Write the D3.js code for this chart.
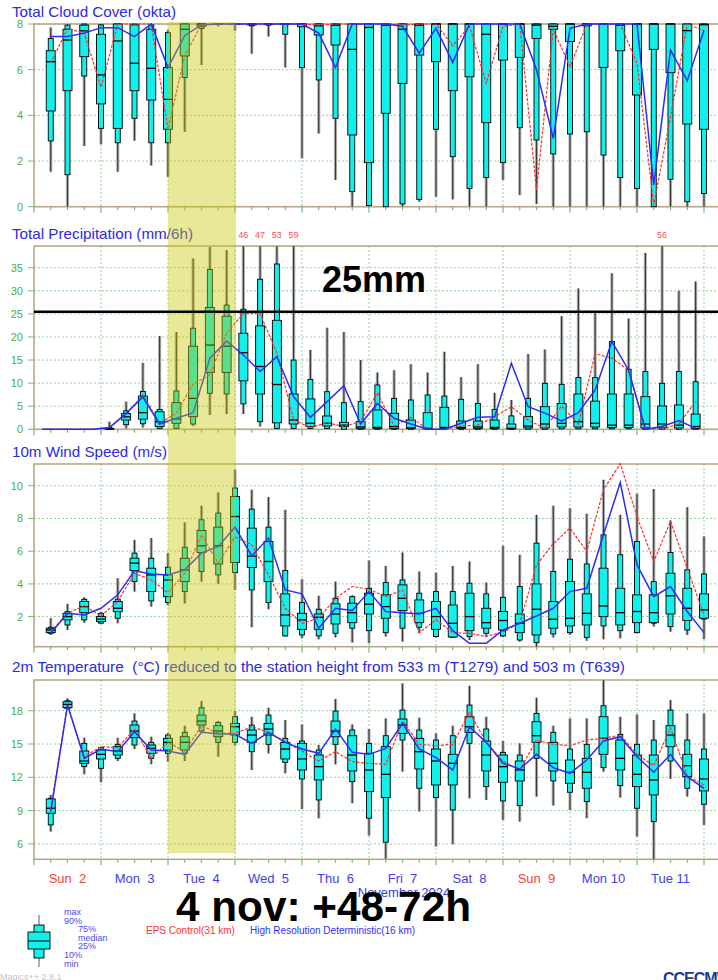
<!DOCTYPE html>
<html>
<head>
<meta charset="utf-8">
<script src="https://cdn.jsdelivr.net/npm/d3@7"></script>
<style>
  body { margin: 0; background: #fff; }
  svg { display: block; font-family: "Liberation Sans", Arial, sans-serif; }
  .pre { white-space: pre; }
</style>
</head>
<body>
<main></main>
<script>
// forecast steps (hours from Sun 2 00 UTC)
const stepHours = [6,12,18,24,30,36,42,48,54,60,66,72,78,84,90,96,102,108,114,120,
  126,132,138,144,150,156,162,168,174,180,186,192,198,204,210,216,222,228,234,240];
// precipitation is plotted at the middle of each 6h interval
const precipHours = [3,9,15,21,27,33,39,45,51,57,63,69,75,81,87,93,99,105,111,117,
  123,129,135,141,147,153,159,165,171,177,183,189,195,201,207,213,219,225,231,237];

const dayLabels = ['Sun  2','Mon  3','Tue  4','Wed  5','Thu  6','Fri  7','Sat  8','Sun  9','Mon 10','Tue 11'];
const sundays = ['Sun  2','Sun  9'];

// [min, p10, p25, median, p75, p90, max]
const cloudBoxes = [
  [1.53,2.88,4.19,6.35,6.83,7.37,7.85],[0,1.4,5.08,7.3,7.77,7.95,8],[2.66,5.72,6.57,7.7,7.95,8,8],
  [2.74,3.43,4.5,5.77,7.55,7.96,8],[1.53,2.8,3.43,7.26,8,8,8],[2.89,3.87,5.08,6.28,7.96,8,8],
  [1.8,2.8,4.67,6.06,7.77,7.96,8],[1.31,2.8,3.39,4.7,6.09,7.62,7.74],[3.28,5.66,6.6,7.77,8,8,8],
  [6.2,7.8,7.9,8,8,8,8],[7.9,8,8,8,8,8,8],[7.7,8,8,8,8,8,8],[6.7,7.92,7.96,8,8,8,8],
  [7.45,7.95,8,8,8,8,8],[6.09,7.55,8,8,8,8,8],[2.12,6.09,7.88,8,8,8,8],[3.2,5.55,7.52,7.92,8,8,8],
  [1.17,3.87,7.08,7.95,8,8,8],[0,0.66,3.14,6.89,8,8,8],[0,0.05,1.93,7.85,8,8,8],[0,0,4.09,7.95,8,8,8],
  [0,0.12,5.4,7.77,8,8,8],[0.22,0.32,6.64,7.95,8,8,8],[0.44,3.39,6.35,8,8,8,8],[0.32,2.19,5.08,8,8,8,8],
  [0,0.8,5.69,8,8,8,8],[0,1.28,3.68,7.55,8,8,8],[1.17,1.93,6.42,8,8,8,8],[0.51,3.46,6.54,8,8,8,8],
  [0.12,2.92,7.37,7.95,8,8,8],[0,2.31,7.77,7.9,8,8,8],[0,3.18,7.23,8,8,8,8],[0,3.28,7.92,8,8,8,8],
  [0,2.26,6.1,8,8,8,8],[0,1.28,6.83,7.95,8,8,8],[0,0.8,4.89,8,8,8,8],[0,0,6.89,8,8,8,8],
  [0,1.2,5.87,8,8,8,8],[0,0.22,3.62,7.71,8,8,8],[0,0.58,3.39,7.97,8,8,8]
];
const cloudControl = [6.3,7.8,7.6,5.23,8,8,8,3.39,6.6,8,8,8,8,8,8,8,7.95,8,8,8,8,7.95,8,8,7.05,7.9,
  5.4,7.9,8,0.73,7.77,6.13,8,8,8,6.28,0.07,3.93,8,7.71];
const cloudHres = [7.45,7.45,7.6,7.84,7.84,7.45,8,6.09,7.5,7.96,8,8,8,8,8,8,7.6,6.09,8,8,8,7.9,6.72,
  7.81,6.32,8,8,8,8,6.0,2.99,7.81,8,8,8,8,0.95,6.86,5.52,7.71];

const precipBoxes = [
  [0,0,0,0,0,0,0],[0,0,0,0,0,0,0],[0,0,0,0,0,0,0],[0,0,0,0,0,0,0],
  [0,0,0.05,0.1,0.2,0.4,1.66],[0.2,1.0,2.0,2.7,3.4,4.0,6.0],[0.4,1.2,2.2,3.6,7.2,8.2,14.4],
  [0,0.2,0.6,1.66,3.8,4.3,20.2],[0.2,0.2,1.3,2.24,5.77,8.3,21.1],[0.72,1.15,2.74,6.7,18.0,21.9,37],
  [3.1,7.8,12.3,18.25,26.4,34.6,39.5],[3.3,7.65,12.3,18.0,24.5,26.9,38.8],[3.3,5.5,10.5,16.6,20.8,26.0,46],
  [0.58,1.66,7.65,13.6,22.4,32.5,47],[0,0.2,1.4,9.7,23.6,35.8,53],[0,0.2,1.15,2.0,7.65,15,59],
  [0,0.2,0.6,1.3,6.57,10.8,17.2],[0,0.2,0.72,1.3,2.89,8.15,22],[0,0,0.58,0.9,1.5,5.77,21.1],
  [0,0,0.2,0.5,1.66,6.0,15],[0,0,0.2,0.4,4.2,9.6,12.3],[0,0,0.2,0.6,3.46,6.7,12.8],
  [0,0,0.2,0.3,2.0,6.35,14.1],[0,0,0.1,0.2,3.6,7.43,12.3],[0,0,0.2,0.4,4.76,7.2,16.8],
  [0,0,0.2,0.4,1.8,6.5,11.3],[0,0,0.2,0.5,1.8,5.6,14.1],[0,0,0.2,0.4,2.0,4.3,7.9],
  [0,0,0.1,0.2,1.15,2.9,6.35],[0,0,0.3,0.7,2.74,6.7,16.3],[0,0,0.3,1.15,4.9,9.96,17.3],
  [0,0.1,0.5,1.3,5.6,9.74,24.5],[0,0.1,0.5,1.66,7.65,11.2,30.5],[0,0.1,0.5,1.3,6.1,11.2,25.3],
  [0,0.1,0.4,0.9,7.65,19.0,33.8],[0,0.1,0.4,0.9,7.65,13.0,24.0],[0,0,0.3,1.15,7.07,12.5,38.2],
  [0,0,0.3,1.15,5.05,9.96,56],[0,0,0.3,0.9,5.27,12.5,30.0],[0,0,0.2,0.6,3.3,10.3,32]
];
const precipControl = [0,0,0,0,0.3,3.25,7.4,1.3,3.5,9.8,11.8,20.8,25.1,25.0,16.5,2.0,0.4,1.4,0.6,1.7,
  7.9,0.7,2.6,0,0,0.7,0.9,2.7,4.9,2.0,0.2,5.05,1.15,16.4,15.4,12.8,0.2,0,1.15,6.0];
const precipHres = [0,0,0,0,0.4,3.46,7.0,1.15,2.4,3.6,15.4,19.1,16.1,12.5,15.7,7.07,2.6,6.0,9.45,1.15,
  5.6,2.4,1.15,0,0,1.3,2.6,2.7,14.3,4.9,3.5,1.8,3.6,8.5,19.0,12.8,0,0.6,1.9,0.2];

const windBoxes = [
  [0.88,0.98,1.02,1.18,1.29,1.35,1.9],[1.18,1.49,1.8,2.0,2.2,2.3,2.78],[1.63,1.8,2.24,2.61,2.92,3.06,3.18],
  [1.55,1.6,1.69,1.84,2.0,2.2,2.3],[1.59,1.9,2.3,2.51,2.92,3.06,4.35],[3.53,4.14,4.82,5.27,5.57,5.88,6.69],
  [2.61,2.96,3.53,4.55,4.96,5.57,6.8],[2.7,2.86,3.22,4.24,4.55,5.02,5.88],[2.8,3.53,4.14,4.86,5.57,6.24,7.76],
  [4.14,4.76,5.92,6.33,7.27,7.92,8.78],[4.0,4.55,5.22,6.33,7.47,8.33,9.59],[3.63,4.69,5.31,8.12,9.35,9.86,10.98],
  [1.35,3.63,5.0,5.7,7.41,8.57,9.76],[2.45,2.86,4.14,5.37,6.59,7.47,9.31],[0.78,0.82,1.43,2.1,3.39,4.82,8.53],
  [0.67,0.88,1.22,1.8,2.2,2.86,4.29],[0.61,0.82,1.22,1.96,2.16,2.45,3.27],[0.73,0.98,1.55,2.16,2.78,3.12,4.14],
  [0.41,1.29,1.63,2.24,2.82,3.22,3.3],[0.37,1.14,2.16,2.76,3.43,3.73,5.43],[0.78,1.02,1.9,2.61,3.33,4.08,5.1],
  [0.47,1.29,2.37,3.12,3.94,4.24,5.92],[0.98,1.35,1.63,2.2,3.02,3.43,4.76],[0.73,0.78,1.22,2.0,2.92,3.53,4.69],
  [0.7,0.73,0.75,1.59,2.71,3.53,5.1],[0.57,0.78,1.14,2.0,3.43,4.04,5.37],[0.75,0.98,1.29,1.63,2.51,3.39,4.08],
  [0.75,0.82,1.18,1.76,2.31,3.18,6.33],[0.47,0.57,1.02,1.59,2.16,3.84,5.78],[0.16,0.41,0.88,2.45,4.0,6.49,8.22],
  [0.73,0.94,1.29,1.84,2.92,4.76,8.78],[0.88,1.02,1.43,1.9,4.14,5.51,8.63],[0.53,0.73,1.49,2.2,3.39,5.22,8.29],
  [0.61,1.43,2.0,2.65,4.96,7.0,10.37],[0.67,1.14,1.49,2.24,3.73,5.78,8.22],[0.98,1.02,1.63,2.31,3.33,6.59,9.51],
  [1.39,1.6,1.63,2.24,3.33,4.14,9.8],[1.08,1.39,2.16,3.27,4.65,5.92,7.88],[0.88,1.18,1.76,2.51,3.73,4.86,8.69],
  [0.61,1.85,1.9,2.41,3.39,4.61,6.9]
];
const windControl = [1.08,2.2,2.67,2.04,2.92,4.65,4.24,3.47,4.65,7.0,5.27,6.86,6.39,4.55,2.51,1.59,1.9,
  3.12,3.84,3.67,3.22,3.63,1.02,1.8,1.02,0.98,0.78,1.08,1.59,5.16,6.45,7.41,5.98,9.76,11.35,8.12,5.37,
  7.82,4.96,2.1];
const windHres = [0.98,2.2,2.1,2.51,3.33,4.8,4.61,4.55,4.86,5.88,6.29,7.47,5.71,6.8,3.63,3.39,1.29,2.51,
  2.37,3.53,2.31,2.24,2.16,2.51,1.14,0.37,0.37,1.18,1.59,2.04,2.51,3.53,3.73,7.0,10.2,5.16,3.22,3.84,
  2.31,1.02];

const tempBoxes = [
  [7.11,7.71,8.76,9.21,10.05,10.11,10.41],[18.15,18.2,18.27,18.57,18.81,18.9,19.11],
  [12.27,12.96,13.26,13.47,14.37,15.06,15.57],[11.55,12.81,13.65,14.07,14.46,14.67,14.76],
  [13.47,13.71,14.01,14.37,14.76,14.97,15.57],[14.55,14.91,15.57,16.17,16.71,17.07,17.76],
  [13.17,13.71,14.16,14.61,14.91,15.15,15.66],[13.41,14.16,14.46,15.15,15.51,15.81,15.96],
  [13.47,14.16,14.46,15.15,15.66,16.05,16.65],[16.05,16.17,16.71,17.07,17.61,18.27,18.87],
  [13.86,15.15,15.66,16.17,16.65,16.95,17.07],[14.85,15.15,15.81,16.56,16.86,17.46,17.97],
  [12.66,14.31,15.15,15.81,16.26,16.71,17.46],[14.16,14.97,15.81,16.35,16.86,17.61,18.27],
  [12.36,13.35,13.65,14.55,15.15,15.51,17.16],[9.15,11.85,12.66,13.65,15.06,15.27,16.77],
  [8.31,9.96,11.76,12.96,14.01,14.46,14.91],[13.17,14.97,15.66,16.17,17.07,17.97,19.05],
  [9.66,11.61,12.57,14.01,15.75,16.26,16.77],[6.75,8.31,10.71,12.66,14.16,15.06,16.35],
  [4.65,6.15,10.17,12.27,14.76,15.75,17.31],[12.51,15.36,15.96,16.71,17.25,18.06,20.46],
  [8.91,11.01,12.75,14.31,15.51,16.26,17.37],[5.76,10.17,11.31,13.47,14.55,15.36,15.96],
  [5.97,9.06,11.31,13.26,14.07,15.75,16.65],[10.11,15.06,16.05,16.56,17.46,18.51,20.25],
  [9.96,11.16,12.57,14.01,15.27,16.35,17.46],[8.16,9.87,11.55,12.96,14.01,14.25,15.27],
  [8.01,9.45,11.67,12.66,13.47,14.01,15.06],[10.26,13.71,15.15,15.75,17.01,17.76,19.17],
  [9.45,11.67,12.57,13.26,15.15,16.05,16.65],[9.06,10.65,11.46,12.45,13.56,14.55,17.31],
  [8.31,9.81,11.01,12.45,13.71,14.97,17.31],[12.51,12.87,14.07,15.51,17.46,18.45,20.85],
  [10.17,11.25,12.66,13.71,15.36,15.87,17.46],[6.66,9.21,11.16,12.27,14.01,14.97,17.67],
  [4.56,8.01,10.41,11.76,14.01,15.36,17.16],[11.85,13.47,14.76,15.81,16.65,18.06,18.96],
  [10.26,11.01,12.06,13.05,14.07,15.36,17.76],[7.71,9.57,10.77,11.85,13.65,14.55,17.76]
];
const tempControl = [9.15,18.51,13.86,14.76,14.67,16.35,13.71,15.15,14.31,16.65,15.96,15.96,16.56,16.05,
  15.21,14.37,13.47,14.31,13.41,13.26,13.17,17.07,14.97,14.85,14.97,17.85,15.15,13.47,12.66,15.36,14.97,
  14.85,15.36,15.51,15.81,14.07,13.05,16.47,12.15,11.31];
const tempHres = [8.91,18.51,13.71,14.55,14.31,16.11,14.46,14.37,14.07,16.05,15.93,15.87,15.06,16.05,
  15.15,14.55,14.16,16.35,14.25,14.07,14.61,16.86,14.55,13.77,12.66,16.56,15.15,13.26,12.75,14.07,12.87,
  12.36,13.56,15.27,15.66,13.86,12.45,14.07,12.06,11.01];

const width = 718;
const height = 980;
const frameColor = '#b9a888';
const gridColor = '#96d296';
const tickColor = '#6cc06c';
const boxFill = '#12f0ec';
const red = '#ff2d2d';
const blue = '#2c2cf6';

let svg = d3.select('main')
  .append('svg')
  .attr('width', width)
  .attr('height', height);

const x = d3.scaleLinear().domain([0, 240]).range([34, 704]);
const plotRight = 722;
const dayHours = d3.range(0, 264, 24);
const tickHours = d3.range(0, 252, 6);

/**
 * Draw one meteogram panel: frame, grid, boxes and the two model lines
 * @param cfg
 */
function draw_panel(cfg) {
  const y = d3.scaleLinear().domain(cfg.domain).range([cfg.bottom, cfg.top]);
  let g = svg.append('g');

  // grid
  g.selectAll('.hgrid')
    .data(cfg.ticks)
    .enter()
    .append('line')
    .attr('x1', 34).attr('x2', plotRight)
    .attr('y1', d => y(d)).attr('y2', d => y(d))
    .attr('stroke', gridColor).attr('stroke-dasharray', '2,2');
  g.selectAll('.vgrid')
    .data(dayHours.slice(1))
    .enter()
    .append('line')
    .attr('x1', d => x(d)).attr('x2', d => x(d))
    .attr('y1', cfg.top).attr('y2', cfg.bottom)
    .attr('stroke', gridColor).attr('stroke-dasharray', '2,2');

  // frame
  g.append('rect')
    .attr('x', 34).attr('y', cfg.top)
    .attr('width', plotRight - 34).attr('height', cfg.bottom - cfg.top)
    .attr('fill', 'none').attr('stroke', frameColor).attr('stroke-width', 1.6);

  // y ticks and labels
  g.selectAll('.ytick')
    .data(cfg.ticks)
    .enter()
    .append('line')
    .attr('x1', 28).attr('x2', 34)
    .attr('y1', d => y(d)).attr('y2', d => y(d))
    .attr('stroke', tickColor);
  g.selectAll('.ylab')
    .data(cfg.ticks)
    .enter()
    .append('text')
    .attr('x', 23).attr('y', d => y(d) + 4)
    .attr('text-anchor', 'end')
    .attr('font-size', 11)
    .attr('fill', '#4aae4a')
    .text(d => d);

  // x ticks below the frame
  g.selectAll('.xtick')
    .data(tickHours)
    .enter()
    .append('line')
    .attr('x1', d => x(d)).attr('x2', d => x(d))
    .attr('y1', cfg.bottom).attr('y2', d => cfg.bottom + (d % 24 === 0 ? 6 : 3.5))
    .attr('stroke', tickColor).attr('stroke-width', 1.2);

  // title
  g.append('text')
    .attr('class', 'pre')
    .attr('x', 12).attr('y', cfg.titleY)
    .attr('font-size', 15)
    .attr('fill', '#2b2bdf')
    .attr('textLength', cfg.titleWidth)
    .attr('lengthAdjust', 'spacingAndGlyphs')
    .text(cfg.title);

  // boxes
  const clampY = v => Math.max(cfg.top, Math.min(cfg.bottom, y(v)));
  const items = cfg.boxes.map((b, i) => ({ h: cfg.hours[i], b: b }))
    .filter(d => d.b[6] > 0);
  let bx = g.selectAll('.box')
    .data(items)
    .enter()
    .append('g')
    .attr('transform', d => 'translate(' + x(d.h) + ',0)');

  bx.append('line')
    .attr('y1', d => clampY(d.b[0])).attr('y2', d => clampY(d.b[6]))
    .attr('stroke', '#b4b4b4').attr('stroke-width', 3.2);
  bx.append('line')
    .attr('y1', d => clampY(d.b[0])).attr('y2', d => clampY(d.b[6]))
    .attr('stroke', '#3a3a3a').attr('stroke-width', 1.2);
  bx.append('rect')
    .attr('x', -2.5).attr('width', 5)
    .attr('y', d => clampY(d.b[5]))
    .attr('height', d => Math.max(0.5, clampY(d.b[1]) - clampY(d.b[5])))
    .attr('fill', boxFill).attr('stroke', '#000').attr('stroke-width', 0.9);
  bx.append('rect')
    .attr('x', -4.5).attr('width', 9)
    .attr('y', d => clampY(d.b[4]))
    .attr('height', d => Math.max(0.5, clampY(d.b[2]) - clampY(d.b[4])))
    .attr('fill', boxFill).attr('stroke', '#000').attr('stroke-width', 0.9);
  bx.append('line')
    .attr('x1', -4.5).attr('x2', 4.5)
    .attr('y1', d => clampY(d.b[3])).attr('y2', d => clampY(d.b[3]))
    .attr('stroke', '#000').attr('stroke-width', 1.3);

  // maxima beyond the top of the frame (precipitation only)
  if (cfg.showOver) {
    g.selectAll('.over')
      .data(items.filter(d => d.b[6] > cfg.domain[1]))
      .enter()
      .append('text')
      .attr('x', d => x(d.h)).attr('y', cfg.top - 8)
      .attr('text-anchor', 'middle')
      .attr('font-size', 9)
      .attr('fill', '#ff5050')
      .text(d => d.b[6]);
  }

  // EPS control (red dashed) and HRES (blue)
  const line = d3.line()
    .x((d, i) => x(cfg.hours[i]))
    .y(d => y(d));
  g.append('path')
    .attr('d', line(cfg.control))
    .attr('fill', 'none').attr('stroke', red)
    .attr('stroke-width', 1.2).attr('stroke-dasharray', '3,1.5');
  g.append('path')
    .attr('d', line(cfg.hres))
    .attr('fill', 'none').attr('stroke', blue)
    .attr('stroke-width', 1.5);

  return y;
}

draw_panel({
  top: 24, bottom: 206.7, domain: [0, 8], ticks: [0, 2, 4, 6, 8],
  title: 'Total Cloud Cover (okta)', titleY: 17, titleWidth: 164,
  hours: stepHours, boxes: cloudBoxes, control: cloudControl, hres: cloudHres
});
const yPrecip = draw_panel({
  top: 246, bottom: 429.3, domain: [0, 39.7], ticks: [0, 5, 10, 15, 20, 25, 30, 35],
  title: 'Total Precipitation (mm/6h)', titleY: 239, titleWidth: 181, showOver: true,
  hours: precipHours, boxes: precipBoxes, control: precipControl, hres: precipHres
});
draw_panel({
  top: 464, bottom: 646.7, domain: [0.16, 11.33], ticks: [2, 4, 6, 8, 10],
  title: '10m Wind Speed (m/s)', titleY: 457, titleWidth: 155,
  hours: stepHours, boxes: windBoxes, control: windControl, hres: windHres
});
draw_panel({
  top: 680, bottom: 859.3, domain: [4.61, 20.77], ticks: [6, 9, 12, 15, 18],
  title: '2m Temperature  (\u00b0C) reduced to the station height from 533 m (T1279) and 503 m (T639)',
  titleY: 672, titleWidth: 613,
  hours: stepHours, boxes: tempBoxes, control: tempControl, hres: tempHres
});

// day labels under the last panel
svg.selectAll('.day')
  .data(dayLabels)
  .enter()
  .append('text')
  .attr('class', 'pre')
  .attr('x', (d, i) => x(dayHours[i] + 12))
  .attr('y', 883)
  .attr('text-anchor', 'middle')
  .attr('font-size', 13)
  .attr('fill', d => sundays.includes(d) ? '#f04444' : '#4040ee')
  .text(d => d);

svg.append('text')
  .attr('x', 404).attr('y', 897)
  .attr('text-anchor', 'middle')
  .attr('font-size', 13)
  .attr('fill', '#3838e8')
  .text('November 2024');

// highlighted day (Tue 4, +48-72h)
svg.append('rect')
  .attr('x', x(48)).attr('y', 22)
  .attr('width', x(72) - x(48) + 1).attr('height', 831)
  .attr('fill', 'rgb(200,198,0)').attr('opacity', 0.4);

// 25 mm threshold
svg.append('line')
  .attr('x1', 34).attr('x2', width)
  .attr('y1', yPrecip(25.45)).attr('y2', yPrecip(25.45))
  .attr('stroke', '#000').attr('stroke-width', 2.6);
svg.append('text')
  .attr('x', 322).attr('y', 292)
  .attr('font-size', 36).attr('font-weight', 'bold')
  .attr('fill', '#000')
  .text('25mm');

svg.append('text')
  .attr('x', 176).attr('y', 921)
  .attr('font-size', 42).attr('font-weight', 'bold')
  .attr('textLength', 295).attr('lengthAdjust', 'spacingAndGlyphs')
  .attr('fill', '#000')
  .text('4 nov: +48-72h');

// legend
const legendVals = [915, 925, 932, 941, 949, 958, 967];
svg.append('line')
  .attr('x1', 39).attr('x2', 39).attr('y1', legendVals[0]).attr('y2', legendVals[6])
  .attr('stroke', '#777').attr('stroke-width', 1.2);
svg.append('rect')
  .attr('x', 34).attr('y', legendVals[1]).attr('width', 10).attr('height', legendVals[5] - legendVals[1])
  .attr('fill', boxFill).attr('stroke', '#000').attr('stroke-width', 0.9);
svg.append('rect')
  .attr('x', 28).attr('y', legendVals[2]).attr('width', 22).attr('height', legendVals[4] - legendVals[2])
  .attr('fill', boxFill).attr('stroke', '#000').attr('stroke-width', 0.9);
svg.append('line')
  .attr('x1', 28).attr('x2', 50).attr('y1', legendVals[3]).attr('y2', legendVals[3])
  .attr('stroke', '#000').attr('stroke-width', 1);

const legendText = ['max', '90%', '75%', 'median', '25%', '10%', 'min'];
const legendIndent = [0, 0, 1, 1, 1, 0, 0];
svg.selectAll('.leg')
  .data(legendText)
  .enter()
  .append('text')
  .attr('x', (d, i) => legendIndent[i] ? 78 : 64)
  .attr('y', (d, i) => 915 + i * 8.6)
  .attr('font-size', 9)
  .attr('fill', '#4848ee')
  .text(d => d);

svg.append('text')
  .attr('x', 146).attr('y', 934)
  .attr('font-size', 10)
  .attr('fill', '#ff3030')
  .text('EPS Control(31 km)');
svg.append('text')
  .attr('x', 250).attr('y', 934)
  .attr('font-size', 10)
  .attr('fill', '#3030ff')
  .text('High Resolution Deterministic(16 km)');

svg.append('text')
  .attr('x', 0).attr('y', 980)
  .attr('font-size', 9)
  .attr('fill', '#c4c4c4')
  .text('Magics++ 2.8.1');

// ECMWF logo (cut at the bottom edge)
svg.append('text')
  .attr('x', 663).attr('y', 984)
  .attr('font-size', 16).attr('font-weight', 'bold')
  .attr('letter-spacing', -1)
  .attr('fill', '#1b3a98')
  .text('CCECMWF');
</script>
</body>
</html>
